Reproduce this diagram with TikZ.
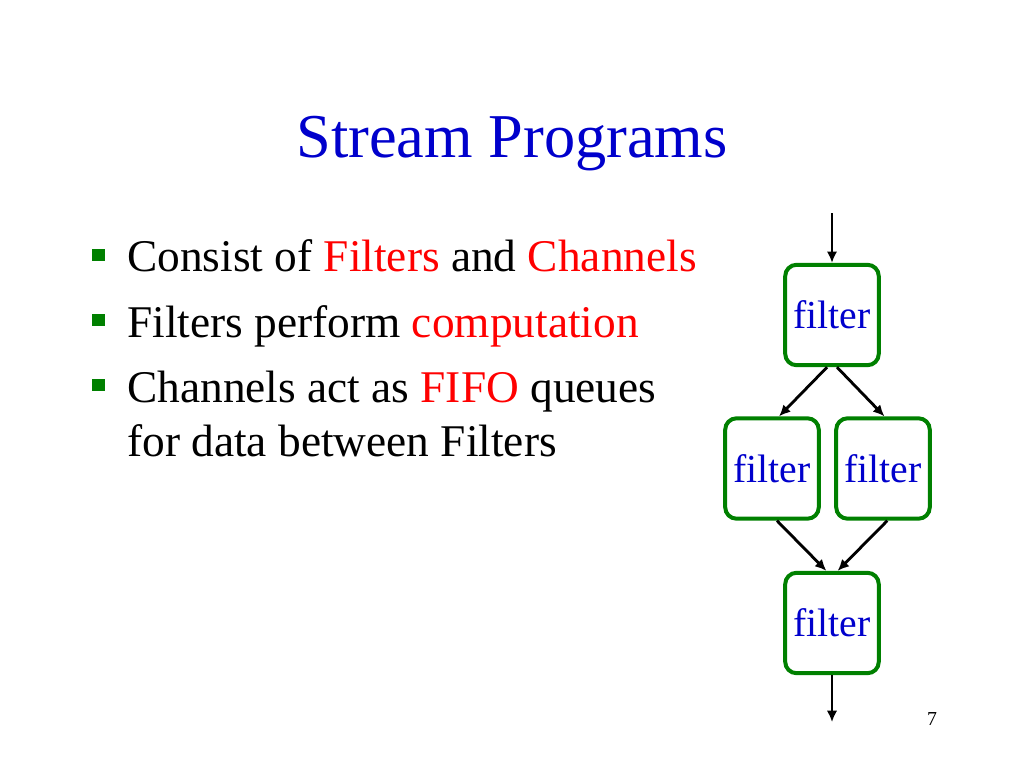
\documentclass[tikz,border=0pt]{standalone}
\usepackage{fontspec}
\setmainfont{Liberation Serif}
\usepackage{xcolor}
\usepackage{tikz}
\usetikzlibrary{arrows.meta, positioning}

\definecolor{titleblue}{RGB}{0,0,204}
\definecolor{boxgreen}{RGB}{0,128,0}
\definecolor{hotred}{RGB}{255,0,0}

\begin{document}
\begin{tikzpicture}[
    x=0.0248cm, y=-0.0248cm,
    filterbox/.style={draw=boxgreen, line width=2.8pt, rounded corners=8pt, fill=white, minimum width=2.32cm, minimum height=2.49cm, inner sep=0pt, text=titleblue, font=\fontsize{28}{32}\selectfont},
    flow/.style={draw, -{Latex[length=2.8mm, width=2.6mm]}, line width=2pt},
    bullet/.style={fill=boxgreen, minimum size=8.5pt, inner sep=0pt},
    itemline/.style={anchor=base west, inner sep=0pt, font=\fontsize{32}{38}\selectfont}
  ]
  \useasboundingbox (0,0) rectangle (1024,768);

  % title
  \node[anchor=base, text=titleblue, font=\fontsize{44}{52}\selectfont] (title) at (512,157) {Stream Programs};

  % bullets
  \node[bullet] (b1) at (98.5,255) {};
  \node[bullet] (b2) at (98.5,320) {};
  \node[bullet] (b3) at (98.5,385) {};
  \node[itemline] (l1) at (127,271) {Consist of \textcolor{hotred}{Filters} and \textcolor{hotred}{Channels}};
  \node[itemline] (l2) at (127,337) {Filters perform \textcolor{hotred}{computation}};
  \node[itemline] (l3) at (127,402) {Channels act as \textcolor{hotred}{FIFO} queues};
  \node[itemline] (l4) at (127,456) {for data between Filters};

  % stream graph
  \coordinate (in) at (832,213);
  \node[filterbox] (f1) at (832,315) {filter};
  \node[filterbox] (f2l) at (772,468.5) {filter};
  \node[filterbox] (f2r) at (883,468.5) {filter};
  \node[filterbox] (f3) at (832,623) {filter};
  \coordinate (out) at (832,722);

  \draw[flow] (in) -- (f1);
  \draw[flow] ([xshift=-3.5pt]f1.south) -- ([xshift=5pt]f2l.north);
  \draw[flow] ([xshift=3.5pt]f1.south) -- ([xshift=1pt]f2r.north);
  \draw[flow] ([xshift=3.5pt]f2l.south) -- ([xshift=-4pt]f3.north);
  \draw[flow] ([xshift=3pt]f2r.south) -- ([xshift=4pt]f3.north);
  \draw[flow] (f3) -- (out);

  % page number
  \node[anchor=base, font=\fontsize{14}{16}\selectfont] (pageno) at (932,725) {7};
\end{tikzpicture}
\end{document}
